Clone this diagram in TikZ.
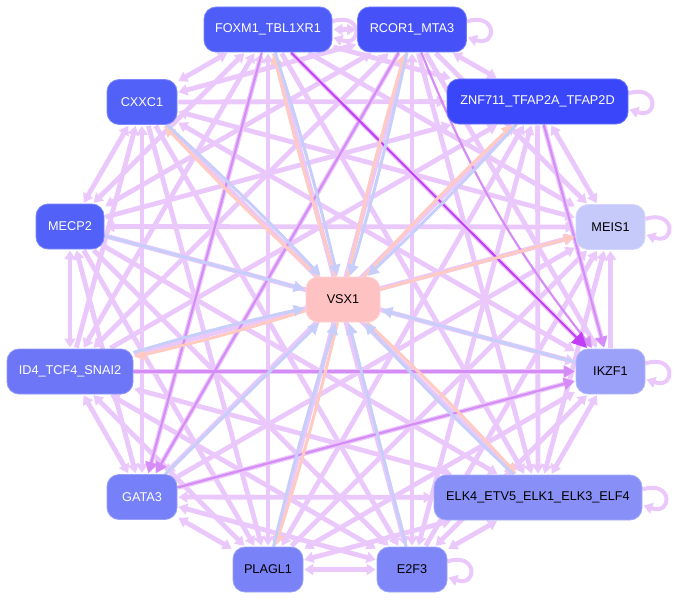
\documentclass[tikz,border=0pt]{standalone}
\usepackage{fontspec}
\setmainfont{Liberation Sans}
\usetikzlibrary{arrows.meta,calc,backgrounds}
\definecolor{cF}{RGB}{78,92,248}
\definecolor{cR}{RGB}{70,82,248}
\definecolor{cZ}{RGB}{58,70,250}
\definecolor{cC}{RGB}{82,98,248}
\definecolor{cMc}{RGB}{82,98,248}
\definecolor{cId}{RGB}{110,118,248}
\definecolor{cG}{RGB}{118,128,248}
\definecolor{cP}{RGB}{122,130,248}
\definecolor{cE}{RGB}{126,134,248}
\definecolor{cEl}{RGB}{136,144,248}
\definecolor{cI}{RGB}{155,160,248}
\definecolor{cMe}{RGB}{198,202,250}
\definecolor{cV}{RGB}{255,194,194}
\definecolor{lpc}{RGB}{234,200,251}
\definecolor{mpc}{RGB}{214,140,246}
\definecolor{dpc}{RGB}{194,62,246}
\definecolor{pec}{RGB}{255,202,194}
\definecolor{blc}{RGB}{200,206,250}
\begin{document}
\begin{tikzpicture}[x=1pt,y=-1pt,
  nd/.style={rectangle,rounded corners=12pt,minimum height=45pt,inner sep=0pt,
    font=\fontsize{12.7}{15}\selectfont,fill=#1,draw=#1!75!white,line width=0.8pt},
  >={Triangle[length=9pt,width=11pt]},
  lp/.style={draw=lpc,line width=4.8pt,shorten >=1pt,shorten <=1pt},
  mp/.style={draw=mpc,line width=2.2pt,shorten >=1pt,-{Triangle[length=11pt,width=12pt]}},
  dp/.style={draw=dpc,line width=2pt,shorten >=1pt,-{Triangle[length=15pt,width=15pt]}},
  pe/.style={draw=pec,line width=3pt,shorten >=1pt,-{Triangle[length=11pt,width=11pt]}},
  bl/.style={draw=blc,line width=3pt,shorten >=1pt,-{Triangle[length=11pt,width=11pt]}},
  lo/.style={draw=lpc,line width=4pt,-{Triangle[length=9pt,width=11pt]}}]
\useasboundingbox (0,0) rectangle (676,599);
% nodes
\node[nd=cF,text=white,minimum width=128pt] (F) at (268,29.5) {FOXM1\_TBL1XR1};
\node[nd=cR,text=white,minimum width=109pt] (R) at (412,29.5) {RCOR1\_MTA3};
\node[nd=cZ,text=white,minimum width=181pt] (Z) at (537.5,101.5) {ZNF711\_TFAP2A\_TFAP2D};
\node[nd=cC,text=white,minimum width=70pt] (C) at (142,102) {CXXC1};
\node[nd=cMc,text=white,minimum width=68pt] (Mc) at (70,226.5) {MECP2};
\node[nd=cV,text=black,minimum width=74pt] (V) at (343,299.5) {VSX1};
\node[nd=cId,text=white,minimum width=126pt] (Id) at (70,371.5) {ID4\_TCF4\_SNAI2};
\node[nd=cMe,text=black,minimum width=69pt] (Me) at (610.5,227) {MEIS1};
\node[nd=cI,text=black,minimum width=69pt] (I) at (610.5,371.5) {IKZF1};
\node[nd=cG,text=white,minimum width=70pt] (G) at (142,497) {GATA3};
\node[nd=cP,text=black,minimum width=70pt] (P) at (268,569.5) {PLAGL1};
\node[nd=cE,text=black,minimum width=70pt] (E2) at (412,569.5) {E2F3};
\node[nd=cEl,text=black,minimum width=208pt] (El) at (538,497.5) {ELK4\_ETV5\_ELK1\_ELK3\_ELF4};
\begin{scope}[on background layer]
% light purple edges among outer nodes
\foreach \a/\b/\s in {F/R/<->,F/Z/->,F/Me/->,F/I/->,F/El/->,F/E2/->,F/P/<->,F/G/<->,F/Id/<->,F/Mc/<->,F/C/<->,
  R/Z/<->,R/Me/->,R/I/->,R/El/->,R/E2/<->,R/P/<->,R/G/->,R/Id/<->,R/Mc/<->,R/C/<->,
  Z/Me/<->,Z/I/->,Z/El/->,Z/E2/<->,Z/P/<->,Z/G/<->,Z/Id/<-,Z/Mc/<-,Z/C/<-,
  Me/I/<-,Me/El/<->,Me/E2/<-,Me/P/<-,Me/G/<-,Me/Id/<-,Me/Mc/<->,Me/C/<->,
  I/El/<->,I/E2/<->,I/P/<->,I/G/<-,I/Id/<-,I/Mc/<-,I/C/<->,
  El/E2/<->,El/P/<->,El/G/<->,El/Id/<->,El/Mc/<-,El/C/<-,
  E2/P/<->,E2/G/<->,E2/Id/<->,E2/Mc/<-,E2/C/<-,
  P/G/<->,P/Id/<->,P/Mc/<-,P/C/<-,
  G/Id/<->,G/Mc/<->,G/C/<->,
  Id/Mc/<->,Id/C/->,Mc/C/<->}
  {\draw[lp,\s] (\a) -- (\b);}
% self loops
\foreach \n in {F,R,Z,Me,I,El,E2}
  {\draw[lo] ($(\n.east)+(0,-8)$) .. controls +(30,-10) and +(30,10) .. ($(\n.east)+(1,8)$);}
% medium purple
\draw[mp] (F) -- (G);
\draw[mp] (R) -- (G);
\draw[mp] (Z) -- (I);
\draw[mp] (R) to[bend right=8] (I);
\draw[mp] (Id) -- (I);
\draw[mp] (G) -- (I);
% dark purple
\draw[dp] (F) -- (I);
% VSX1 out (peach) and in (blue)
\foreach \x in {C,F,R,Z,Id,P,El}
  {\draw[pe] (V) to[bend left=2] (\x);
   \draw[bl] (\x) to[bend left=2] (V);}
\draw[pe] (V) -- (Me);
\foreach \x in {Mc,I,G,E2}
  {\draw[bl] (\x) -- (V);}
\end{scope}
\end{tikzpicture}
\end{document}
